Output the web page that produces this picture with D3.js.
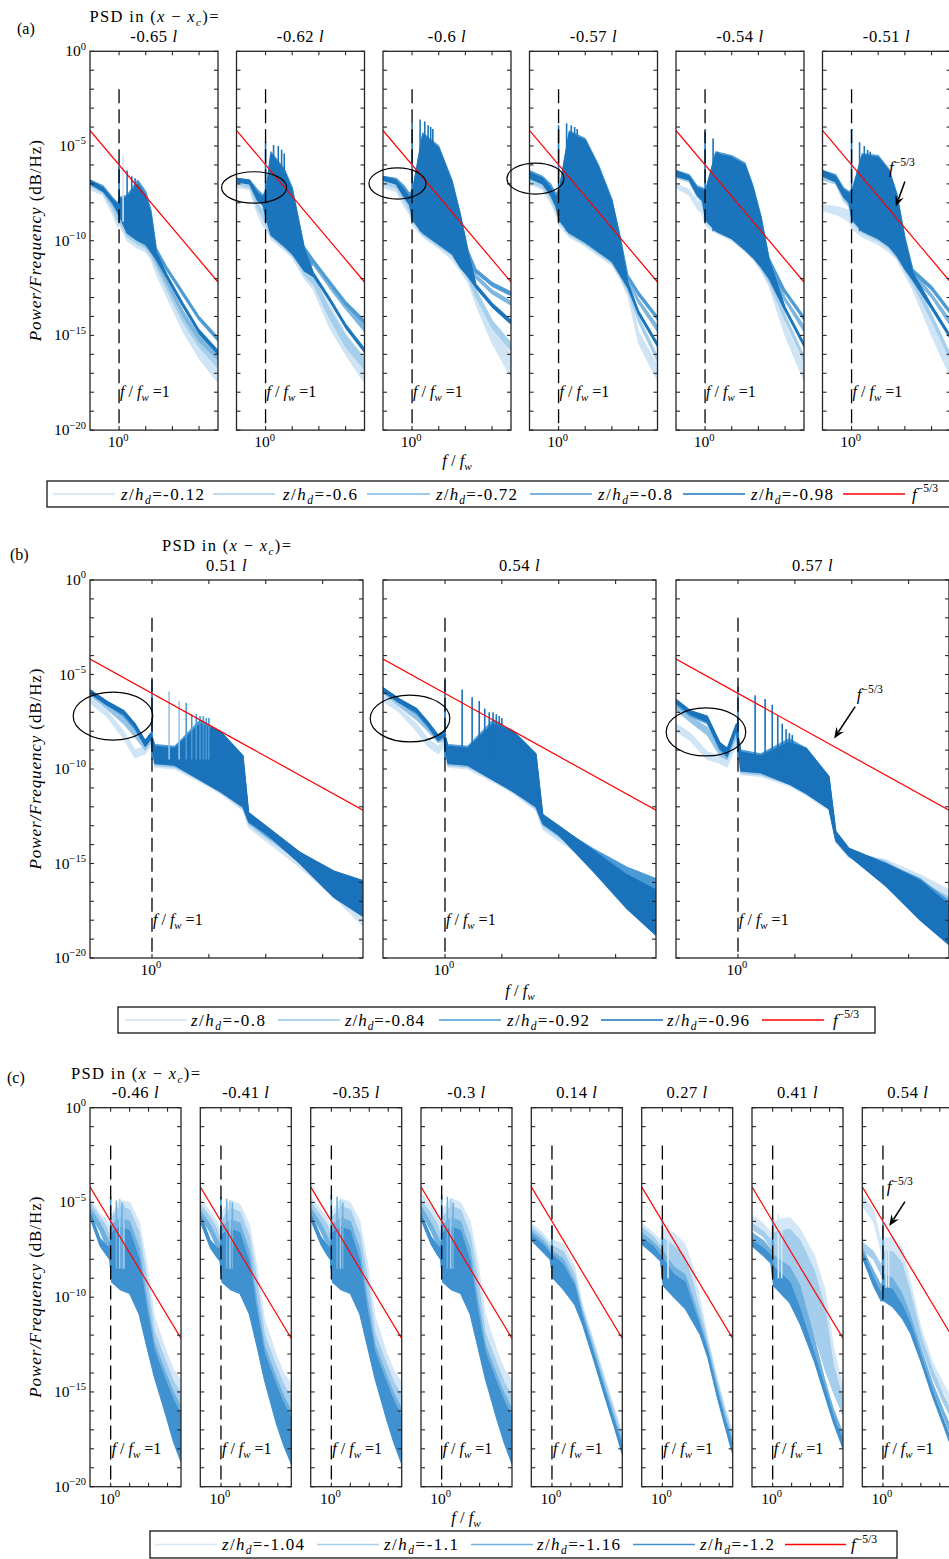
<!DOCTYPE html>
<html><head><meta charset="utf-8">
<script src="https://cdn.jsdelivr.net/npm/d3@7"></script>
<style>
body{margin:0;background:#fff}
svg{display:block}
text{font-family:"Liberation Serif","Times New Roman",serif;fill:#000}
</style>
</head><body>
<svg id="c" width="949" height="1559"></svg>
<script>
// ---------------- axis / reference data (log10 units) ----------------
const X_DOMAIN_LOG = [-1.09, 3.71];
const Y_DOMAIN_LOG = [-20, 0];
const Y_TICK_LABELS = [0, -5, -10, -15, -20];
const X_TICKS = [0, 1, 2, 3];
const X_TICK_LABEL = 0;
const REF_LINE = [[-1.09, -4.18], [3.71, -12.18]];   // f^{-5/3}
const DASH_LINE = [[0, -2], [0, -20]];               // f/f_w = 1
const FLABEL_POS = [0, -18.25];

// ---------------- group (a) ----------------
const A_TITLES = ["-0.65","-0.62","-0.6","-0.57","-0.54","-0.51"];
const A_LEGEND = ["-0.12","-0.6","-0.72","-0.8","-0.98"];
// each series: [log10 f, log10 P lower, log10 P upper]
const A1 = [
 [[-1.09,-7.3,-7.1],[-0.6,-7.6,-7.4],[-0.25,-8.6,-8.2],[-0.05,-9.3,-8.6],[0.02,-9.2,-8.0],[0.3,-10.0,-7.6],[0.7,-10.4,-6.9],[1.0,-10.6,-7.5],[1.2,-11.0,-8.6],[1.4,-11.8,-11.0],[1.8,-13.0,-12.3],[2.4,-14.8,-14.0],[3.0,-16.2,-15.3],[3.71,-17.5,-16.4]],
 [[-1.09,-7.1,-7.0],[-0.6,-7.5,-7.3],[-0.25,-8.3,-8.0],[-0.05,-9.0,-8.4],[0.02,-9.0,-7.9],[0.3,-9.8,-7.7],[0.7,-10.2,-7.0],[1.0,-10.4,-7.6],[1.2,-10.8,-8.6],[1.4,-11.4,-10.8],[1.8,-12.6,-12.2],[2.4,-14.3,-13.9],[3.0,-15.6,-15.3],[3.71,-16.7,-16.4]],
 [[-1.09,-7.0,-6.9],[-0.6,-7.4,-7.2],[-0.25,-8.1,-7.8],[-0.05,-8.6,-8.2],[0.02,-8.8,-7.8],[0.3,-9.6,-7.6],[0.7,-10.0,-6.9],[1.0,-10.3,-7.5],[1.2,-10.6,-8.5],[1.4,-11.2,-10.7],[1.8,-12.3,-12.0],[2.4,-14.0,-13.7],[3.0,-15.3,-15.0],[3.71,-16.3,-16.0]],
 [[-1.09,-6.9,-6.8],[-0.6,-7.3,-7.1],[-0.25,-7.9,-7.7],[-0.05,-8.4,-8.0],[0.02,-8.6,-7.7],[0.3,-9.4,-7.6],[0.7,-9.8,-6.8],[1.0,-10.1,-7.4],[1.2,-10.4,-8.4],[1.4,-10.7,-10.4],[1.8,-11.6,-11.4],[2.4,-12.9,-12.7],[3.0,-14.2,-14.0],[3.71,-15.3,-15.1]],
 [[-1.09,-7.0,-6.8],[-0.6,-7.4,-7.2],[-0.25,-8.0,-7.8],[-0.05,-8.5,-8.1],[0.02,-8.7,-7.8],[0.3,-9.6,-7.7],[0.7,-10.0,-7.0],[1.0,-10.2,-7.6],[1.2,-10.6,-8.6],[1.4,-11.0,-10.6],[1.8,-12.0,-11.8],[2.4,-13.5,-13.3],[3.0,-14.9,-14.7],[3.71,-16.0,-15.8]]
];
const A2 = [
 [[-1.09,-7.2,-7.0],[-0.6,-7.3,-7.1],[-0.3,-8.6,-8.2],[-0.1,-9.2,-8.6],[0.02,-9.4,-8.0],[0.2,-9.9,-6.0],[0.7,-10.5,-6.6],[1.0,-10.9,-7.6],[1.2,-11.4,-8.8],[1.45,-12.0,-10.6],[1.8,-12.6,-12.0],[2.4,-14.6,-13.4],[3.0,-16.0,-14.9],[3.71,-17.5,-16.3]],
 [[-1.09,-7.0,-6.9],[-0.6,-7.2,-7.0],[-0.3,-8.3,-8.0],[-0.1,-8.8,-8.4],[0.02,-9.2,-7.8],[0.2,-9.8,-5.8],[0.7,-10.4,-6.4],[1.0,-10.8,-7.4],[1.2,-11.2,-8.7],[1.45,-11.8,-10.5],[1.8,-12.3,-11.9],[2.4,-14.1,-13.6],[3.0,-15.6,-15.0],[3.71,-16.8,-16.2]],
 [[-1.09,-6.9,-6.8],[-0.6,-7.0,-6.9],[-0.3,-7.8,-7.4],[-0.1,-8.2,-7.8],[0.02,-8.8,-7.5],[0.2,-9.6,-5.5],[0.7,-10.2,-6.2],[1.0,-10.6,-7.2],[1.2,-11.0,-8.6],[1.45,-11.4,-10.4],[1.8,-11.3,-11.1],[2.4,-12.5,-12.3],[3.0,-13.6,-13.4],[3.71,-14.8,-14.5]],
 [[-1.09,-6.8,-6.7],[-0.6,-6.9,-6.8],[-0.3,-7.6,-7.3],[-0.1,-8.0,-7.6],[0.02,-8.6,-7.3],[0.2,-9.6,-5.3],[0.7,-10.1,-6.2],[1.0,-10.5,-7.2],[1.2,-10.9,-8.6],[1.45,-11.3,-10.3],[1.8,-11.2,-11.0],[2.4,-12.3,-12.1],[3.0,-13.4,-13.2],[3.71,-14.4,-14.2]],
 [[-1.09,-6.9,-6.7],[-0.6,-7.0,-6.8],[-0.3,-7.9,-7.5],[-0.1,-8.1,-7.7],[0.02,-8.8,-7.4],[0.2,-9.7,-5.4],[0.7,-10.3,-6.3],[1.0,-10.7,-7.3],[1.2,-11.1,-8.7],[1.45,-11.6,-10.4],[1.8,-11.9,-11.7],[2.4,-13.2,-13.0],[3.0,-14.6,-14.4],[3.71,-15.9,-15.7]]
];
const A3 = [
 [[-1.09,-7.2,-7.0],[-0.6,-7.4,-7.1],[-0.3,-8.2,-7.8],[-0.1,-8.6,-8.2],[0.02,-9.2,-7.8],[0.4,-9.8,-4.6],[1.0,-10.4,-5.4],[1.5,-11.0,-7.2],[1.8,-11.6,-9.0],[2.1,-12.2,-11.0],[2.4,-13.4,-12.8],[3.0,-15.4,-14.4],[3.71,-17.2,-16.0]],
 [[-1.09,-7.0,-6.8],[-0.6,-7.2,-7.0],[-0.3,-7.9,-7.5],[-0.1,-8.4,-8.0],[0.02,-9.0,-7.6],[0.4,-9.7,-4.5],[1.0,-10.3,-5.3],[1.5,-10.8,-7.0],[1.8,-11.4,-8.8],[2.1,-12.0,-10.8],[2.4,-13.0,-12.6],[3.0,-14.6,-14.2],[3.71,-15.8,-15.4]],
 [[-1.09,-6.8,-6.7],[-0.6,-7.0,-6.8],[-0.3,-7.6,-7.2],[-0.1,-8.0,-7.6],[0.02,-8.8,-7.4],[0.4,-9.5,-4.4],[1.0,-10.1,-5.1],[1.5,-10.6,-6.9],[1.8,-11.2,-8.6],[2.1,-11.6,-10.6],[2.4,-12.0,-11.8],[3.0,-12.8,-12.6],[3.71,-13.4,-13.2]],
 [[-1.09,-6.7,-6.6],[-0.6,-6.9,-6.7],[-0.3,-7.5,-7.1],[-0.1,-7.9,-7.5],[0.02,-8.7,-7.3],[0.4,-9.4,-4.3],[1.0,-10.0,-5.0],[1.5,-10.5,-6.8],[1.8,-11.0,-8.5],[2.1,-11.4,-10.5],[2.4,-11.7,-11.5],[3.0,-12.4,-12.2],[3.71,-12.9,-12.7]],
 [[-1.09,-6.8,-6.6],[-0.6,-7.0,-6.8],[-0.3,-7.7,-7.3],[-0.1,-8.1,-7.7],[0.02,-8.9,-7.4],[0.4,-9.6,-4.4],[1.0,-10.2,-5.1],[1.5,-10.7,-6.9],[1.8,-11.4,-8.6],[2.1,-11.9,-10.6],[2.4,-12.5,-12.3],[3.0,-13.5,-13.3],[3.71,-14.4,-14.2]]
];
const A4 = [
 [[-1.09,-7.0,-6.6],[-0.6,-7.3,-7.0],[-0.3,-8.0,-7.5],[-0.1,-8.6,-8.0],[0.02,-9.2,-7.8],[0.4,-9.8,-4.5],[1.0,-10.3,-4.9],[1.5,-10.8,-6.3],[2.0,-11.3,-8.1],[2.3,-12.0,-10.0],[2.6,-12.9,-12.4],[3.0,-15.4,-14.8],[3.71,-17.4,-16.6]],
 [[-1.09,-6.9,-6.5],[-0.6,-7.2,-6.9],[-0.3,-7.8,-7.3],[-0.1,-8.4,-7.8],[0.02,-9.0,-7.6],[0.4,-9.7,-4.4],[1.0,-10.2,-4.8],[1.5,-10.7,-6.2],[2.0,-11.2,-8.0],[2.3,-11.9,-9.9],[2.6,-12.7,-12.3],[3.0,-14.3,-14.0],[3.71,-16.4,-16.1]],
 [[-1.09,-6.7,-6.4],[-0.6,-7.0,-6.7],[-0.3,-7.5,-7.1],[-0.1,-8.1,-7.6],[0.02,-8.8,-7.4],[0.4,-9.5,-4.3],[1.0,-10.0,-4.7],[1.5,-10.5,-6.1],[2.0,-11.0,-7.9],[2.3,-11.6,-9.8],[2.6,-12.2,-12.0],[3.0,-13.3,-13.1],[3.71,-14.8,-14.5]],
 [[-1.09,-6.6,-6.3],[-0.6,-6.9,-6.6],[-0.3,-7.4,-7.0],[-0.1,-8.0,-7.5],[0.02,-8.7,-7.3],[0.4,-9.4,-4.2],[1.0,-9.9,-4.6],[1.5,-10.4,-6.0],[2.0,-10.9,-7.8],[2.3,-11.5,-9.7],[2.6,-12.0,-11.8],[3.0,-12.9,-12.7],[3.71,-14.2,-14.0]],
 [[-1.09,-6.7,-6.4],[-0.6,-7.0,-6.7],[-0.3,-7.6,-7.2],[-0.1,-8.2,-7.7],[0.02,-8.9,-7.4],[0.4,-9.6,-4.3],[1.0,-10.1,-4.7],[1.5,-10.6,-6.1],[2.0,-11.1,-7.9],[2.3,-11.8,-9.8],[2.6,-12.5,-12.2],[3.0,-13.9,-13.7],[3.71,-15.6,-15.4]]
];
const A5 = [
 [[-1.09,-7.2,-7.0],[-0.6,-7.6,-7.3],[-0.3,-8.3,-7.9],[-0.1,-8.6,-8.0],[0.02,-9.2,-7.8],[0.4,-9.6,-5.6],[1.0,-10.0,-5.8],[1.5,-10.6,-6.2],[1.8,-11.0,-7.4],[2.1,-11.6,-9.0],[2.4,-12.4,-11.2],[3.0,-15.0,-14.4],[3.71,-17.4,-16.6]],
 [[-1.09,-6.7,-6.5],[-0.6,-6.9,-6.7],[-0.3,-7.7,-7.3],[-0.1,-8.0,-7.5],[0.02,-9.0,-7.6],[0.4,-9.5,-5.5],[1.0,-9.9,-5.7],[1.5,-10.5,-6.1],[1.8,-10.9,-7.3],[2.1,-11.5,-8.9],[2.4,-12.2,-11.1],[3.0,-14.2,-13.9],[3.71,-16.4,-16.1]],
 [[-1.09,-6.6,-6.4],[-0.6,-6.8,-6.6],[-0.3,-7.5,-7.2],[-0.1,-7.8,-7.3],[0.02,-8.8,-7.4],[0.4,-9.4,-5.4],[1.0,-9.8,-5.6],[1.5,-10.4,-6.0],[1.8,-10.8,-7.2],[2.1,-11.3,-8.8],[2.4,-11.8,-11.0],[3.0,-13.2,-13.0],[3.71,-14.8,-14.5]],
 [[-1.09,-6.5,-6.3],[-0.6,-6.7,-6.5],[-0.3,-7.4,-7.1],[-0.1,-7.7,-7.2],[0.02,-8.7,-7.3],[0.4,-9.3,-5.3],[1.0,-9.7,-5.5],[1.5,-10.3,-5.9],[1.8,-10.7,-7.1],[2.1,-11.2,-8.7],[2.4,-11.6,-10.9],[3.0,-12.8,-12.6],[3.71,-14.2,-14.0]],
 [[-1.09,-6.6,-6.3],[-0.6,-6.8,-6.6],[-0.3,-7.6,-7.2],[-0.1,-7.9,-7.3],[0.02,-8.9,-7.4],[0.4,-9.5,-5.4],[1.0,-9.9,-5.6],[1.5,-10.5,-6.0],[1.8,-10.9,-7.2],[2.1,-11.4,-8.8],[2.4,-12.0,-11.0],[3.0,-13.7,-13.5],[3.71,-15.6,-15.4]]
];
const A6 = [
 [[-1.09,-8.4,-8.1],[-0.6,-8.6,-8.2],[-0.3,-8.8,-8.3],[-0.1,-9.0,-8.4],[0.02,-9.4,-7.9],[0.4,-9.8,-5.8],[1.0,-10.2,-5.9],[1.4,-10.6,-6.5],[1.7,-11.0,-7.8],[2.0,-11.8,-10.2],[2.3,-12.6,-12.0],[3.0,-15.0,-14.3],[3.71,-17.2,-16.4]],
 [[-1.09,-6.8,-6.5],[-0.6,-7.0,-6.7],[-0.3,-7.9,-7.5],[-0.1,-8.2,-7.7],[0.02,-9.0,-7.6],[0.4,-9.6,-5.6],[1.0,-10.0,-5.7],[1.4,-10.4,-6.4],[1.7,-10.9,-7.7],[2.0,-11.6,-10.0],[2.3,-12.3,-11.8],[3.0,-14.2,-13.9],[3.71,-16.3,-16.0]],
 [[-1.09,-6.6,-6.4],[-0.6,-6.8,-6.6],[-0.3,-7.6,-7.3],[-0.1,-8.0,-7.5],[0.02,-8.8,-7.4],[0.4,-9.5,-5.5],[1.0,-9.9,-5.6],[1.4,-10.3,-6.3],[1.7,-10.8,-7.6],[2.0,-11.4,-9.9],[2.3,-11.9,-11.6],[3.0,-13.0,-12.8],[3.71,-14.5,-14.2]],
 [[-1.09,-6.5,-6.3],[-0.6,-6.7,-6.5],[-0.3,-7.5,-7.2],[-0.1,-7.9,-7.4],[0.02,-8.7,-7.3],[0.4,-9.4,-5.4],[1.0,-9.8,-5.5],[1.4,-10.2,-6.2],[1.7,-10.7,-7.5],[2.0,-11.3,-9.8],[2.3,-11.7,-11.5],[3.0,-12.6,-12.4],[3.71,-13.9,-13.7]],
 [[-1.09,-6.6,-6.3],[-0.6,-6.9,-6.6],[-0.3,-7.7,-7.3],[-0.1,-8.0,-7.5],[0.02,-8.9,-7.4],[0.4,-9.5,-5.5],[1.0,-9.9,-5.6],[1.4,-10.3,-6.3],[1.7,-10.8,-7.6],[2.0,-11.5,-9.9],[2.3,-12.1,-11.7],[3.0,-13.6,-13.4],[3.71,-15.2,-15.0]]
];
// harmonic peaks: [log10 f, top, base, series index]
const A_PEAKS = [
 [[0,-5.9,-9,4],[0.15,-5.5,-9,0],[0.301,-6.3,-9.5,4],[0.477,-6.6,-9.5,4],[0.602,-6.7,-9.5,4]],
 [[0,-4.8,-9,4],[0.301,-4.95,-9.5,4],[0.477,-5.0,-9.5,4],[0.602,-5.2,-9.5,4],[0.699,-5.4,-9.5,4]],
 [[0,-3.8,-9,4],[0.301,-3.6,-9.5,4],[0.477,-3.7,-9.5,4],[0.602,-3.9,-9.5,4],[0.699,-4.0,-9.5,4],[0.778,-4.1,-9.5,4]],
 [[0,-3.9,-9,4],[0.301,-3.8,-9.5,4],[0.477,-3.9,-9.5,4],[0.602,-4.0,-9.5,4],[0.699,-4.1,-9.5,4]],
 [[0,-4.25,-9,4],[0.301,-4.6,-9.5,4],[0.477,-5.3,-9.5,4]],
 [[0,-4.1,-9,4],[0.301,-4.8,-9.5,4],[0.477,-5.0,-9.5,4],[0.602,-5.2,-9.5,4],[0.699,-5.3,-9.5,4]]
];
// ellipses: [log10 f centre, log10 P centre, x radius (decades), y radius (decades)]
const A_ELLIPSES = [null, [-0.43,-7.19,1.22,0.83], [-0.546,-6.98,1.07,0.82], [-0.865,-6.72,1.07,0.82], null, null];
// arrow annotation: panel, start, tip, label position
const A_ARROW = {panel: 5, from: [2.0,-6.88], to: [1.66,-8.2], label: [1.40,-6.43]};

// ---------------- group (b) ----------------
const B_TITLES = ["0.51","0.54","0.57"];
const B_LEGEND = ["-0.8","-0.84","-0.92","-0.96"];
const B1 = [
 [[-1.09,-6.5,-6.2],[-0.8,-7.2,-6.9],[-0.5,-8.4,-8.0],[-0.3,-9.4,-9.0],[-0.12,-9.2,-8.8],[-0.02,-8.8,-8.4],[0.05,-9.9,-8.9],[0.4,-10.0,-9.0],[0.85,-10.7,-8.0],[1.2,-11.3,-8.6],[1.6,-12.2,-9.8],[1.7,-13.1,-12.6],[2.0,-13.8,-13.5],[2.6,-15.2,-14.9],[3.2,-16.8,-16.4],[3.71,-18.3,-17.8]],
 [[-1.09,-6.1,-5.9],[-0.8,-6.8,-6.5],[-0.5,-7.6,-7.2],[-0.3,-8.3,-7.9],[-0.12,-9.0,-8.6],[-0.02,-8.6,-8.2],[0.05,-9.8,-8.8],[0.4,-9.9,-8.9],[0.85,-10.6,-7.6],[1.2,-11.2,-8.2],[1.6,-12.1,-9.5],[1.7,-12.9,-12.5],[2.0,-13.6,-13.3],[2.6,-14.9,-14.6],[3.2,-16.3,-16.0],[3.71,-17.6,-17.2]],
 [[-1.09,-6.0,-5.8],[-0.8,-6.6,-6.4],[-0.5,-7.2,-6.9],[-0.3,-7.9,-7.6],[-0.12,-8.8,-8.5],[-0.02,-8.4,-8.1],[0.05,-9.7,-8.7],[0.4,-9.8,-8.8],[0.85,-10.5,-7.4],[1.2,-11.1,-8.0],[1.6,-12.0,-9.3],[1.7,-12.8,-12.4],[2.0,-13.5,-13.2],[2.6,-14.7,-14.4],[3.2,-16.0,-15.6],[3.71,-17.3,-16.6]],
 [[-1.09,-6.0,-5.8],[-0.8,-6.6,-6.4],[-0.5,-7.1,-6.9],[-0.3,-7.8,-7.6],[-0.12,-8.8,-8.5],[-0.02,-8.4,-8.1],[0.05,-9.7,-8.8],[0.4,-9.8,-8.9],[0.85,-10.6,-7.6],[1.2,-11.2,-8.0],[1.6,-12.0,-9.3],[1.7,-12.8,-12.3],[2.0,-13.4,-13.0],[2.6,-15.0,-14.4],[3.2,-16.8,-15.4],[3.71,-17.8,-15.9]]
];
const B2 = [
 [[-1.09,-6.4,-6.1],[-0.8,-7.0,-6.8],[-0.5,-8.0,-7.6],[-0.3,-8.8,-8.4],[-0.12,-9.2,-8.8],[-0.02,-8.8,-8.4],[0.05,-9.9,-8.9],[0.4,-10.0,-9.0],[0.85,-10.7,-8.0],[1.2,-11.3,-8.6],[1.6,-12.2,-9.6],[1.72,-13.2,-12.8],[2.0,-13.8,-13.5],[2.6,-15.0,-14.6],[3.2,-16.3,-15.9],[3.71,-17.6,-17.0]],
 [[-1.09,-6.0,-5.8],[-0.8,-6.7,-6.4],[-0.5,-7.4,-7.1],[-0.3,-8.0,-7.7],[-0.12,-8.6,-8.3],[-0.02,-8.5,-8.1],[0.05,-9.8,-8.8],[0.4,-9.9,-8.9],[0.85,-10.6,-7.6],[1.2,-11.2,-8.2],[1.6,-12.1,-9.4],[1.72,-13.0,-12.6],[2.0,-13.6,-13.3],[2.6,-14.8,-14.4],[3.2,-16.0,-15.6],[3.71,-17.2,-16.7]],
 [[-1.09,-5.9,-5.7],[-0.8,-6.5,-6.3],[-0.5,-7.1,-6.8],[-0.3,-7.8,-7.5],[-0.12,-8.5,-8.2],[-0.02,-8.3,-8.0],[0.05,-9.7,-8.7],[0.4,-9.8,-8.8],[0.85,-10.5,-7.4],[1.2,-11.1,-8.0],[1.6,-12.0,-9.2],[1.72,-12.9,-12.5],[2.0,-13.5,-13.1],[2.6,-14.8,-14.2],[3.2,-16.4,-15.2],[3.71,-17.8,-15.8]],
 [[-1.09,-5.9,-5.7],[-0.8,-6.5,-6.3],[-0.5,-7.0,-6.8],[-0.3,-7.7,-7.5],[-0.12,-8.5,-8.2],[-0.02,-8.3,-8.0],[0.05,-9.7,-8.8],[0.4,-9.8,-8.9],[0.85,-10.6,-7.6],[1.2,-11.2,-8.0],[1.6,-12.0,-9.2],[1.72,-12.9,-12.4],[2.0,-13.5,-13.0],[2.6,-15.4,-14.3],[3.2,-17.4,-15.6],[3.71,-18.8,-16.4]]
];
const B3 = [
 [[-1.09,-8.0,-7.6],[-0.84,-8.5,-8.1],[-0.54,-9.5,-9.1],[-0.32,-9.7,-9.3],[-0.19,-9.9,-9.5],[-0.03,-8.7,-8.3],[0.05,-10.3,-9.3],[0.4,-10.4,-9.5],[0.9,-10.9,-8.9],[1.2,-11.4,-9.4],[1.6,-12.2,-10.8],[1.72,-13.9,-13.5],[1.95,-14.7,-14.4],[2.6,-15.2,-14.8],[3.2,-16.2,-15.6],[3.71,-17.2,-16.4]],
 [[-1.09,-6.9,-6.6],[-0.84,-7.5,-7.2],[-0.54,-8.2,-7.8],[-0.32,-9.3,-8.9],[-0.19,-9.5,-9.1],[-0.03,-8.3,-7.9],[0.05,-10.2,-9.1],[0.4,-10.3,-9.3],[0.9,-10.8,-8.6],[1.2,-11.3,-9.1],[1.6,-12.1,-10.6],[1.72,-13.8,-13.4],[1.95,-14.6,-14.3],[2.6,-15.4,-14.9],[3.2,-16.6,-15.9],[3.71,-17.6,-16.8]],
 [[-1.09,-6.6,-6.4],[-0.84,-7.2,-7.0],[-0.54,-7.6,-7.3],[-0.32,-9.0,-8.6],[-0.19,-9.4,-9.0],[-0.03,-8.0,-7.7],[0.05,-10.1,-9.0],[0.4,-10.2,-9.2],[0.9,-10.8,-8.4],[1.2,-11.3,-8.9],[1.6,-12.1,-10.4],[1.72,-13.8,-13.3],[1.95,-14.6,-14.2],[2.6,-16.0,-15.0],[3.2,-17.6,-15.8],[3.71,-19.0,-17.0]],
 [[-1.09,-6.5,-6.3],[-0.84,-7.1,-6.9],[-0.54,-7.5,-7.2],[-0.32,-8.9,-8.6],[-0.19,-9.3,-8.9],[-0.03,-7.9,-7.6],[0.05,-10.1,-9.1],[0.4,-10.2,-9.3],[0.9,-10.8,-8.6],[1.2,-11.3,-8.9],[1.6,-12.1,-10.4],[1.72,-13.8,-13.3],[1.95,-14.6,-14.2],[2.6,-16.2,-15.0],[3.2,-18.0,-15.9],[3.71,-19.3,-17.2]]
];
const B_PEAKS = [
 [[0,-5.3,-9.5,3],[0.301,-5.9,-9.5,1],[0.477,-6.4,-9.5,1],[0.602,-6.5,-9.5,2],[0.699,-7.1,-9.5,2],[0.778,-7.1,-9.5,2],[0.845,-7.2,-9.5,2],[0.903,-7.2,-9.5,2],[0.954,-7.3,-9.5,2],[1.0,-7.3,-9.5,2]],
 [[0,-5.3,-9.5,3],[0.301,-5.8,-9.5,3],[0.477,-6.2,-9.5,3],[0.602,-6.4,-9.5,3],[0.699,-6.8,-9.5,3],[0.778,-7.0,-9.5,3],[0.845,-7.0,-9.5,3],[0.903,-7.1,-9.5,3],[0.954,-7.2,-9.5,3],[1.0,-7.3,-9.5,3]],
 [[0,-5.65,-9.5,3],[0.301,-6.1,-9.5,3],[0.477,-6.3,-9.5,3],[0.602,-6.6,-9.5,3],[0.699,-7.2,-9.5,3],[0.778,-7.6,-9.5,3],[0.845,-7.9,-9.5,3],[0.903,-8.1,-9.5,3],[0.954,-8.2,-9.5,3]]
];
const B_ELLIPSES = [[-0.686,-7.2,0.70,1.27], [-0.615,-7.33,0.70,1.24], [-0.563,-8.04,0.70,1.27]];
const B_ARROW = {panel: 2, from: [2.06,-6.7], to: [1.69,-8.38], label: [2.09,-6.35]};

// ---------------- group (c) ----------------
const C_TITLES = ["-0.46","-0.41","-0.35","-0.3","0.14","0.27","0.41","0.54"];
const C_LEGEND = ["-1.04","-1.1","-1.16","-1.2"];
const C1 = [
 [[-1.09,-5.0,-4.8],[-0.56,-5.9,-5.6],[-0.21,-6.3,-5.9],[-0.05,-7.0,-6.5],[0.05,-8.6,-5.6],[0.5,-9.0,-4.9],[1.0,-9.2,-5.0],[1.5,-10.0,-6.0],[1.9,-11.4,-8.2],[2.3,-12.6,-11.0],[2.9,-13.6,-12.8],[3.3,-14.3,-13.8],[3.71,-15.0,-14.4]],
 [[-1.09,-5.3,-5.0],[-0.56,-6.1,-5.8],[-0.21,-6.8,-6.3],[-0.05,-7.4,-6.9],[0.05,-8.8,-5.8],[0.5,-9.2,-5.2],[1.0,-9.4,-5.4],[1.5,-10.3,-6.6],[1.9,-11.8,-9.0],[2.3,-13.0,-11.8],[2.9,-14.4,-13.4],[3.3,-15.4,-14.4],[3.71,-16.5,-15.1]],
 [[-1.09,-5.6,-5.3],[-0.56,-6.5,-6.1],[-0.21,-7.4,-6.8],[-0.05,-7.8,-7.2],[0.05,-9.0,-6.2],[0.5,-9.4,-5.8],[1.0,-9.6,-6.0],[1.5,-10.6,-7.4],[1.9,-12.2,-10.0],[2.3,-13.6,-12.4],[2.9,-15.4,-14.0],[3.3,-16.6,-15.0],[3.71,-18.0,-15.8]],
 [[-1.09,-5.8,-5.5],[-0.56,-7.3,-6.9],[-0.21,-7.8,-7.3],[-0.05,-8.0,-7.4],[0.05,-9.2,-6.6],[0.5,-9.6,-6.3],[1.0,-9.8,-6.5],[1.5,-10.9,-8.0],[1.9,-12.6,-10.6],[2.3,-14.2,-12.8],[2.9,-16.2,-14.4],[3.3,-17.6,-15.4],[3.71,-18.7,-16.2]]
];
const C2 = [
 [[-1.09,-5.1,-4.8],[-0.56,-5.8,-5.5],[-0.21,-6.4,-6.0],[-0.05,-7.1,-6.6],[0.05,-8.6,-5.5],[0.5,-9.0,-4.9],[1.0,-9.2,-5.1],[1.5,-10.0,-6.2],[1.9,-11.4,-8.4],[2.3,-12.6,-11.2],[2.9,-13.8,-13.0],[3.3,-14.6,-14.0],[3.71,-15.3,-14.6]],
 [[-1.09,-5.4,-5.1],[-0.56,-6.2,-5.8],[-0.21,-6.9,-6.4],[-0.05,-7.5,-7.0],[0.05,-8.8,-5.9],[0.5,-9.2,-5.3],[1.0,-9.4,-5.5],[1.5,-10.3,-6.8],[1.9,-11.8,-9.2],[2.3,-13.2,-12.0],[2.9,-14.8,-13.6],[3.3,-16.0,-14.6],[3.71,-17.0,-15.3]],
 [[-1.09,-5.7,-5.4],[-0.56,-6.6,-6.2],[-0.21,-7.4,-6.9],[-0.05,-7.9,-7.3],[0.05,-9.0,-6.3],[0.5,-9.4,-5.9],[1.0,-9.6,-6.1],[1.5,-10.6,-7.6],[1.9,-12.2,-10.2],[2.3,-13.8,-12.6],[2.9,-15.8,-14.2],[3.3,-17.2,-15.2],[3.71,-18.4,-16.0]],
 [[-1.09,-6.0,-5.6],[-0.56,-7.4,-7.0],[-0.21,-7.9,-7.4],[-0.05,-8.1,-7.5],[0.05,-9.2,-6.7],[0.5,-9.6,-6.4],[1.0,-9.8,-6.6],[1.5,-10.9,-8.2],[1.9,-12.6,-10.8],[2.3,-14.4,-13.0],[2.9,-16.6,-14.6],[3.3,-17.8,-15.6],[3.71,-18.8,-16.4]]
];
const C3 = [
 [[-1.09,-5.0,-4.7],[-0.56,-5.7,-5.4],[-0.21,-6.2,-5.8],[-0.05,-6.9,-6.4],[0.05,-8.6,-5.5],[0.5,-9.0,-4.8],[1.0,-9.2,-5.0],[1.5,-10.0,-6.0],[1.9,-11.4,-8.2],[2.3,-12.6,-11.0],[2.9,-13.7,-12.9],[3.3,-14.5,-13.9],[3.71,-15.2,-14.5]],
 [[-1.09,-5.3,-5.0],[-0.56,-6.0,-5.7],[-0.21,-6.7,-6.2],[-0.05,-7.3,-6.8],[0.05,-8.8,-5.8],[0.5,-9.2,-5.2],[1.0,-9.4,-5.4],[1.5,-10.3,-6.7],[1.9,-11.8,-9.0],[2.3,-13.1,-11.9],[2.9,-14.6,-13.5],[3.3,-15.7,-14.5],[3.71,-16.8,-15.2]],
 [[-1.09,-5.6,-5.3],[-0.56,-6.5,-6.1],[-0.21,-7.3,-6.8],[-0.05,-7.8,-7.2],[0.05,-9.0,-6.2],[0.5,-9.4,-5.8],[1.0,-9.6,-6.0],[1.5,-10.6,-7.5],[1.9,-12.2,-10.1],[2.3,-13.7,-12.5],[2.9,-15.6,-14.1],[3.3,-16.9,-15.1],[3.71,-18.2,-15.9]],
 [[-1.09,-5.9,-5.6],[-0.56,-7.2,-6.8],[-0.21,-7.8,-7.3],[-0.05,-8.0,-7.4],[0.05,-9.2,-6.6],[0.5,-9.6,-6.3],[1.0,-9.8,-6.5],[1.5,-10.9,-8.1],[1.9,-12.6,-10.7],[2.3,-14.3,-12.9],[2.9,-16.4,-14.5],[3.3,-17.7,-15.5],[3.71,-18.8,-16.3]]
];
const C4 = [
 [[-1.09,-4.8,-4.5],[-0.56,-5.6,-5.2],[-0.21,-6.1,-5.7],[-0.05,-6.8,-6.3],[0.05,-8.5,-5.4],[0.5,-8.9,-4.8],[1.0,-9.1,-5.0],[1.5,-9.9,-6.0],[1.9,-11.3,-8.1],[2.3,-12.5,-10.9],[2.9,-13.6,-12.8],[3.3,-14.4,-13.8],[3.71,-15.1,-14.4]],
 [[-1.09,-5.2,-4.9],[-0.56,-6.0,-5.6],[-0.21,-6.7,-6.2],[-0.05,-7.3,-6.8],[0.05,-8.8,-5.8],[0.5,-9.2,-5.2],[1.0,-9.4,-5.4],[1.5,-10.3,-6.7],[1.9,-11.8,-9.0],[2.3,-13.1,-11.9],[2.9,-14.6,-13.5],[3.3,-15.7,-14.5],[3.71,-16.8,-15.2]],
 [[-1.09,-5.5,-5.2],[-0.56,-6.5,-6.1],[-0.21,-7.3,-6.8],[-0.05,-7.8,-7.2],[0.05,-9.0,-6.2],[0.5,-9.4,-5.8],[1.0,-9.6,-6.0],[1.5,-10.6,-7.5],[1.9,-12.2,-10.1],[2.3,-13.7,-12.5],[2.9,-15.6,-14.1],[3.3,-16.9,-15.1],[3.71,-18.2,-15.9]],
 [[-1.09,-5.9,-5.6],[-0.56,-7.2,-6.8],[-0.21,-7.8,-7.3],[-0.05,-8.0,-7.4],[0.05,-9.2,-6.6],[0.5,-9.6,-6.3],[1.0,-9.8,-6.5],[1.5,-10.9,-8.1],[1.9,-12.6,-10.7],[2.3,-14.3,-12.9],[2.9,-16.4,-14.5],[3.3,-17.7,-15.5],[3.71,-18.8,-16.3]]
];
const C5 = [
 [[-1.09,-6.4,-6.1],[-0.5,-6.9,-6.6],[-0.1,-7.4,-7.1],[0.05,-8.6,-7.0],[0.6,-9.2,-7.2],[1.2,-10.0,-8.4],[1.6,-10.8,-10.4],[2.2,-12.6,-12.3],[2.8,-14.6,-14.3],[3.3,-16.2,-15.9],[3.71,-17.6,-17.2]],
 [[-1.09,-6.6,-6.3],[-0.5,-7.1,-6.8],[-0.1,-7.6,-7.3],[0.05,-8.7,-7.3],[0.6,-9.3,-7.6],[1.2,-10.1,-8.8],[1.6,-11.0,-10.6],[2.2,-12.8,-12.5],[2.8,-14.8,-14.5],[3.3,-16.4,-16.1],[3.71,-17.8,-17.4]],
 [[-1.09,-6.8,-6.5],[-0.5,-7.4,-7.0],[-0.1,-7.9,-7.5],[0.05,-8.9,-7.6],[0.6,-9.5,-8.0],[1.2,-10.3,-9.2],[1.6,-11.2,-10.8],[2.2,-13.1,-12.8],[2.8,-15.1,-14.8],[3.3,-16.7,-16.4],[3.71,-18.1,-17.7]],
 [[-1.09,-7.0,-6.7],[-0.5,-7.6,-7.2],[-0.1,-8.0,-7.7],[0.05,-9.0,-7.8],[0.6,-9.6,-8.3],[1.2,-10.4,-9.4],[1.6,-11.4,-11.0],[2.2,-13.3,-13.0],[2.8,-15.3,-15.0],[3.3,-16.9,-16.6],[3.71,-18.3,-17.9]]
];
const C6 = [
 [[-1.09,-6.4,-6.1],[-0.5,-6.9,-6.6],[-0.1,-7.4,-7.0],[0.05,-9.0,-6.4],[0.6,-9.6,-6.6],[1.2,-10.2,-7.2],[1.6,-10.8,-8.4],[2.0,-11.4,-10.2],[2.4,-12.6,-12.2],[2.9,-14.6,-14.3],[3.3,-16.1,-15.8],[3.71,-17.5,-17.1]],
 [[-1.09,-6.6,-6.3],[-0.5,-7.1,-6.8],[-0.1,-7.6,-7.3],[0.05,-9.1,-6.9],[0.6,-9.7,-7.3],[1.2,-10.3,-7.9],[1.6,-11.0,-9.2],[2.0,-11.6,-10.8],[2.4,-12.8,-12.4],[2.9,-14.8,-14.5],[3.3,-16.3,-16.0],[3.71,-17.7,-17.3]],
 [[-1.09,-6.9,-6.6],[-0.5,-7.4,-7.1],[-0.1,-7.9,-7.5],[0.05,-9.3,-7.6],[0.6,-9.9,-8.4],[1.2,-10.4,-8.8],[1.6,-11.2,-10.0],[2.0,-11.8,-11.3],[2.4,-13.0,-12.7],[2.9,-15.1,-14.8],[3.3,-16.6,-16.3],[3.71,-18.0,-17.6]],
 [[-1.09,-7.2,-6.9],[-0.5,-7.7,-7.3],[-0.1,-8.1,-7.8],[0.05,-9.4,-8.0],[0.6,-10.0,-8.8],[1.2,-10.6,-9.2],[1.6,-11.3,-10.4],[2.0,-12.0,-11.6],[2.4,-13.2,-12.9],[2.9,-15.3,-15.0],[3.3,-16.8,-16.5],[3.71,-18.3,-17.9]]
];
const C7 = [
 [[-1.09,-6.0,-5.7],[-0.5,-6.4,-6.1],[-0.1,-7.0,-6.6],[0.05,-8.8,-6.0],[0.9,-9.3,-5.8],[1.44,-9.9,-6.4],[2.2,-11.6,-7.8],[2.76,-13.4,-9.6],[3.2,-14.6,-12.6],[3.71,-15.6,-14.8]],
 [[-1.09,-6.4,-6.1],[-0.5,-6.8,-6.5],[-0.1,-7.4,-7.0],[0.05,-9.0,-6.6],[0.9,-9.6,-6.4],[1.44,-10.3,-7.0],[2.2,-12.0,-8.6],[2.76,-13.8,-10.6],[3.2,-15.0,-13.6],[3.71,-16.2,-15.4]],
 [[-1.09,-6.9,-6.6],[-0.5,-7.4,-7.0],[-0.1,-7.9,-7.5],[0.05,-9.2,-7.8],[0.9,-10.0,-8.4],[1.44,-11.0,-9.4],[2.2,-13.0,-12.2],[2.76,-14.8,-14.4],[3.2,-16.2,-15.9],[3.71,-17.6,-17.2]],
 [[-1.09,-7.3,-7.0],[-0.5,-7.8,-7.4],[-0.1,-8.2,-7.8],[0.05,-9.4,-8.4],[0.9,-10.3,-9.2],[1.44,-11.4,-10.6],[2.2,-13.4,-13.0],[2.76,-15.2,-14.8],[3.2,-16.6,-16.3],[3.71,-18.0,-17.6]]
];
const C8 = [
 [[-1.09,-5.2,-4.6],[-0.5,-6.0,-5.4],[-0.1,-7.6,-7.0],[0.05,-9.2,-7.0],[0.5,-9.6,-6.8],[1.0,-10.0,-7.4],[1.45,-10.8,-9.2],[2.0,-12.2,-11.6],[2.6,-13.8,-13.4],[3.2,-15.0,-14.6],[3.71,-16.0,-15.5]],
 [[-1.09,-7.5,-7.1],[-0.5,-8.0,-7.6],[-0.1,-8.8,-8.3],[0.05,-9.4,-7.6],[0.5,-9.8,-7.6],[1.0,-10.2,-8.2],[1.45,-11.0,-9.8],[2.0,-12.5,-12.0],[2.6,-14.2,-13.8],[3.2,-15.6,-15.2],[3.71,-16.6,-16.2]],
 [[-1.09,-7.7,-7.4],[-0.5,-9.0,-8.6],[-0.1,-9.8,-9.4],[0.05,-9.9,-8.8],[0.5,-10.2,-9.0],[1.0,-10.8,-9.8],[1.45,-11.6,-11.0],[2.0,-13.0,-12.7],[2.6,-14.8,-14.5],[3.2,-16.3,-16.0],[3.71,-17.6,-17.2]],
 [[-1.09,-7.9,-7.6],[-0.5,-9.4,-9.0],[-0.1,-10.2,-9.8],[0.05,-10.2,-9.4],[0.5,-10.5,-9.6],[1.0,-11.1,-10.4],[1.45,-11.9,-11.4],[2.0,-13.4,-13.1],[2.6,-15.2,-14.9],[3.2,-16.8,-16.5],[3.71,-18.2,-17.8]]
];
const C_PEAKS = [
 [[0,-4.7,-8.5,3],[0.301,-4.9,-8.5,2],[0.477,-4.8,-8.5,1],[0.602,-5.0,-8.5,2],[0.699,-5.1,-8.5,1]],
 [[0,-4.7,-8.5,3],[0.301,-4.8,-8.5,2],[0.477,-4.9,-8.5,1],[0.602,-5.0,-8.5,2]],
 [[0,-4.6,-8.5,3],[0.301,-4.7,-8.5,2],[0.477,-4.9,-8.5,1],[0.602,-5.0,-8.5,2]],
 [[0,-4.6,-8.5,3],[0.301,-4.7,-8.5,2],[0.477,-4.8,-8.5,1],[0.602,-5.0,-8.5,2]],
 [[0,-6.2,-9,3]],
 [[0,-5.9,-9,3],[0.301,-6.2,-9,0]],
 [[0,-5.8,-9,3],[0.301,-5.6,-9,0],[0.477,-5.8,-9,0]],
 [[0,-6.0,-9.5,3],[0.17,-6.8,-9.5,0],[0.301,-7.0,-9.5,0]]
];
const C_ARROW = {panel: 7, from: [1.16,-4.96], to: [0.33,-6.24], label: [0.20,-4.45]};

// ---------------- colours ----------------
const A_COLORS = ["#cfe4f4","#a6cfeb","#7db6df","#4e9bd3","#1b75bc"];
const B_COLORS = ["#cfe4f4","#93c4e8","#4a9ad6","#1a72bb"];
const C_COLORS = ["#d4e7f6","#a5cdec","#6fb0de","#3f91d0"];
const RED = "#ff0000";

// ---------------- drawing helpers ----------------
const svg = d3.select("#c");
const defs = svg.append("defs");

function rich(g, x, y, parts, size, anchor) {
  const t = g.append("text").attr("x", x).attr("y", y).attr("font-size", size)
    .attr("text-anchor", anchor || "start");
  let shift = 0;
  parts.forEach(p => {
    const s = typeof p === "string" ? p : p[0];
    const fl = typeof p === "string" ? "" : p[1];
    const ts = t.append("tspan").text(s);
    let target = 0, fs = size;
    if (fl.includes("^")) { target = -size * 0.42; fs = size * 0.68; }
    if (fl.includes("_")) { target = size * 0.25; fs = size * 0.68; }
    if (fl.includes("i")) ts.attr("font-style", "italic");
    ts.attr("font-size", fs);
    if (target - shift !== 0) ts.attr("dy", target - shift);
    shift = target;
  });
  return t;
}

function arrowHead(g, x0, y0, x1, y1) {
  const ang = Math.atan2(y1 - y0, x1 - x0);
  const L = 11, W = 4.5;
  const bx = x1 - L * Math.cos(ang), by = y1 - L * Math.sin(ang);
  const px = -Math.sin(ang) * W, py = Math.cos(ang) * W;
  g.append("line").attr("x1", x0).attr("y1", y0).attr("x2", bx + 0.3*(x1-bx)).attr("y2", by + 0.3*(y1-by))
    .attr("stroke", "#000").attr("stroke-width", 1.5);
  g.append("path").attr("d", `M${x1},${y1}L${bx+px},${by+py}L${bx+0.35*(x1-bx)},${by+0.35*(y1-by)}L${bx-px},${by-py}Z`)
    .attr("fill", "#000");
}

function drawGroup(cfg) {
  const g = svg.append("g");
  cfg.lefts.forEach((left, i) => {
    const x = d3.scaleLog().domain(X_DOMAIN_LOG.map(v => 10 ** v)).range([left, left + cfg.width]);
    const y = d3.scaleLog().domain(Y_DOMAIN_LOG.map(v => 10 ** v)).range([cfg.bottom, cfg.top]);
    const X = v => x(10 ** v), Y = v => y(10 ** v);
    const cid = `clip-${cfg.id}-${i}`;
    defs.append("clipPath").attr("id", cid).append("rect")
      .attr("x", left).attr("y", cfg.top).attr("width", cfg.width).attr("height", cfg.bottom - cfg.top);
    const pg = g.append("g").attr("clip-path", `url(#${cid})`);
    const area = d3.area().x(d => X(d[0])).y0(d => Y(d[1])).y1(d => Y(d[2]));
    cfg.data[i].forEach((s, k) => {
      pg.append("path").datum(s).attr("d", area)
        .attr("fill", cfg.colors[k]).attr("stroke", cfg.colors[k])
        .attr("stroke-width", 1.1).attr("stroke-linejoin", "round");
    });
    (cfg.peaks[i] || []).forEach(p => {
      pg.append("line").attr("x1", X(p[0])).attr("x2", X(p[0]))
        .attr("y1", Y(p[1])).attr("y2", Y(p[2]))
        .attr("stroke", cfg.colors[p[3]]).attr("stroke-width", 1.6);
    });
    // reference f^{-5/3}
    pg.append("line").attr("x1", X(REF_LINE[0][0])).attr("y1", Y(REF_LINE[0][1]))
      .attr("x2", X(REF_LINE[1][0])).attr("y2", Y(REF_LINE[1][1]))
      .attr("stroke", RED).attr("stroke-width", 1.2);
    // dashed f/f_w = 1
    g.append("line").attr("x1", X(DASH_LINE[0][0])).attr("x2", X(DASH_LINE[1][0]))
      .attr("y1", Y(DASH_LINE[0][1])).attr("y2", Y(DASH_LINE[1][1]))
      .attr("stroke", "#000").attr("stroke-width", 1.3).attr("stroke-dasharray", "14,6");
    rich(g, X(FLABEL_POS[0]) + 1, Y(FLABEL_POS[1]),
      [["f","i"], " / ", ["f","i"], ["w","i_"], " =1"], 16);
    // frame
    g.append("rect").attr("x", left).attr("y", cfg.top).attr("width", cfg.width)
      .attr("height", cfg.bottom - cfg.top).attr("fill", "none")
      .attr("stroke", "#262626").attr("stroke-width", 1.3);
    // ticks
    d3.range(Y_DOMAIN_LOG[0], Y_DOMAIN_LOG[1] + 1).forEach(v => {
      const yy = Y(v);
      g.append("line").attr("x1", left).attr("x2", left + 4).attr("y1", yy).attr("y2", yy)
        .attr("stroke", "#262626").attr("stroke-width", 1.1);
      g.append("line").attr("x1", left + cfg.width - 4).attr("x2", left + cfg.width).attr("y1", yy).attr("y2", yy)
        .attr("stroke", "#262626").attr("stroke-width", 1.1);
    });
    X_TICKS.forEach(v => {
      const xx = X(v);
      g.append("line").attr("x1", xx).attr("x2", xx).attr("y1", cfg.top).attr("y2", cfg.top + 4)
        .attr("stroke", "#262626").attr("stroke-width", 1.1);
      g.append("line").attr("x1", xx).attr("x2", xx).attr("y1", cfg.bottom).attr("y2", cfg.bottom - 4)
        .attr("stroke", "#262626").attr("stroke-width", 1.1);
    });
    rich(g, X(X_TICK_LABEL) - 1, cfg.bottom + 17, ["10", [String(X_TICK_LABEL), "^"]], 15.5, "middle");
    if (i === 0) {
      Y_TICK_LABELS.forEach(v => {
        const lab = v === 0 ? "0" : "\u2212" + Math.abs(v);
        rich(g, left - 4, Y(v) + 5, ["10", [lab, "^"]], 15.5, "end");
      });
    }
    // title
    rich(g, left + cfg.width / 2, cfg.top - 9.5, [cfg.titles[i] + " ", ["l", "i"]], 16.5, "middle")
      .attr("letter-spacing", 0.6);
    // ellipse
    const el = cfg.ellipses && cfg.ellipses[i];
    if (el) {
      g.append("ellipse").attr("cx", X(el[0])).attr("cy", Y(el[1]))
        .attr("rx", X(el[0] + el[2]) - X(el[0])).attr("ry", Y(el[1] - el[3]) - Y(el[1]))
        .attr("fill", "none").attr("stroke", "#000").attr("stroke-width", 1.2);
    }
    // arrow
    if (cfg.arrow && cfg.arrow.panel === i) {
      const a = cfg.arrow;
      arrowHead(g, X(a.from[0]), Y(a.from[1]), X(a.to[0]), Y(a.to[1]));
      rich(g, X(a.label[0]), Y(a.label[1]), [["f", "i"], ["\u22125/3", "^"]], 17);
    }
  });
  // header
  const l0 = cfg.lefts[0];
  rich(g, l0 + cfg.width / 2, cfg.top - 29,
    ["PSD in (", ["x", "i"], " \u2212 ", ["x", "i"], ["c", "i_"], ")="], 16.5, "middle")
    .attr("textLength", 129).attr("lengthAdjust", "spacing");
  rich(g, cfg.panelLabelPos[0], cfg.panelLabelPos[1], [cfg.panelLabel], 16);
  // y label
  const yl = g.append("g").attr("transform", `translate(41,${(cfg.top + cfg.bottom) / 2}) rotate(-90)`);
  rich(yl, 0, 0, [["Power/Frequency", "i"], " (dB/Hz)"], 17, "middle").attr("textLength", 201).attr("lengthAdjust", "spacing");
  // x label
  rich(g, cfg.xLabelPos[0], cfg.xLabelPos[1], [["f", "i"], " / ", ["f", "i"], ["w", "i_"]], 16.5, "middle");
  // legend
  const L = cfg.legend;
  g.append("rect").attr("x", L.box[0]).attr("y", L.box[1]).attr("width", L.box[2]).attr("height", L.box[3])
    .attr("fill", "#fff").attr("stroke", "#000").attr("stroke-width", 1.2);
  const cy = L.box[1] + L.box[3] / 2;
  cfg.legendLabels.forEach((lab, k) => {
    const it = L.items[k];
    g.append("line").attr("x1", it[0]).attr("x2", it[1]).attr("y1", cy).attr("y2", cy)
      .attr("stroke", cfg.colors[k]).attr("stroke-width", 1.5);
    rich(g, it[2], cy + 5.5, [["z", "i"], "/", ["h", "i"], ["d", "i_"], "=" + lab], 17)
      .attr("textLength", it[3]).attr("lengthAdjust", "spacing");
  });
  const r = L.items[cfg.legendLabels.length];
  g.append("line").attr("x1", r[0]).attr("x2", r[1]).attr("y1", cy).attr("y2", cy)
    .attr("stroke", RED).attr("stroke-width", 1.5);
  rich(g, r[2], cy + 5.5, [["f", "i"], ["\u22125/3", "^"]], 17);
}

drawGroup({
  id: "a", top: 51.3, bottom: 430.1, width: 128,
  lefts: [90, 236.5, 383, 529.5, 676, 822.5],
  titles: A_TITLES, data: [A1, A2, A3, A4, A5, A6], peaks: A_PEAKS,
  ellipses: A_ELLIPSES, arrow: A_ARROW, colors: A_COLORS,
  panelLabel: "(a)", panelLabelPos: [17, 34], xLabelPos: [457, 466],
  legendLabels: A_LEGEND,
  legend: {box: [47, 481, 920, 26],
    items: [[53,115,121,83],[213,275,283,74],[367,430,436,81],[530,592,598,74],[683,745,751,82],[843,905,912]]}
});
drawGroup({
  id: "b", top: 580, bottom: 958, width: 273,
  lefts: [90, 383, 676],
  titles: B_TITLES, data: [B1, B2, B3], peaks: B_PEAKS,
  ellipses: B_ELLIPSES, arrow: B_ARROW, colors: B_COLORS,
  panelLabel: "(b)", panelLabelPos: [10, 560], xLabelPos: [520, 996],
  legendLabels: B_LEGEND,
  legend: {box: [118, 1007, 757, 26],
    items: [[125,187,191,74],[278,340,345,79],[439,501,507,82],[601,663,667,82],[762,824,833]]}
});
drawGroup({
  id: "c", top: 1107.7, bottom: 1486.7, width: 91,
  lefts: [90, 200.3, 310.7, 421, 531.3, 641.7, 752, 862.3],
  titles: C_TITLES, data: [C1, C2, C3, C4, C5, C6, C7, C8], peaks: C_PEAKS,
  ellipses: null, arrow: C_ARROW, colors: C_COLORS,
  panelLabel: "(c)", panelLabelPos: [7, 1083], xLabelPos: [466, 1523],
  legendLabels: C_LEGEND,
  legend: {box: [150, 1531, 747, 27],
    items: [[155,217,222,82],[317,379,384,74],[471,533,537,83],[633,695,700,74],[785,846,851]]}
});
</script>
</body></html>
